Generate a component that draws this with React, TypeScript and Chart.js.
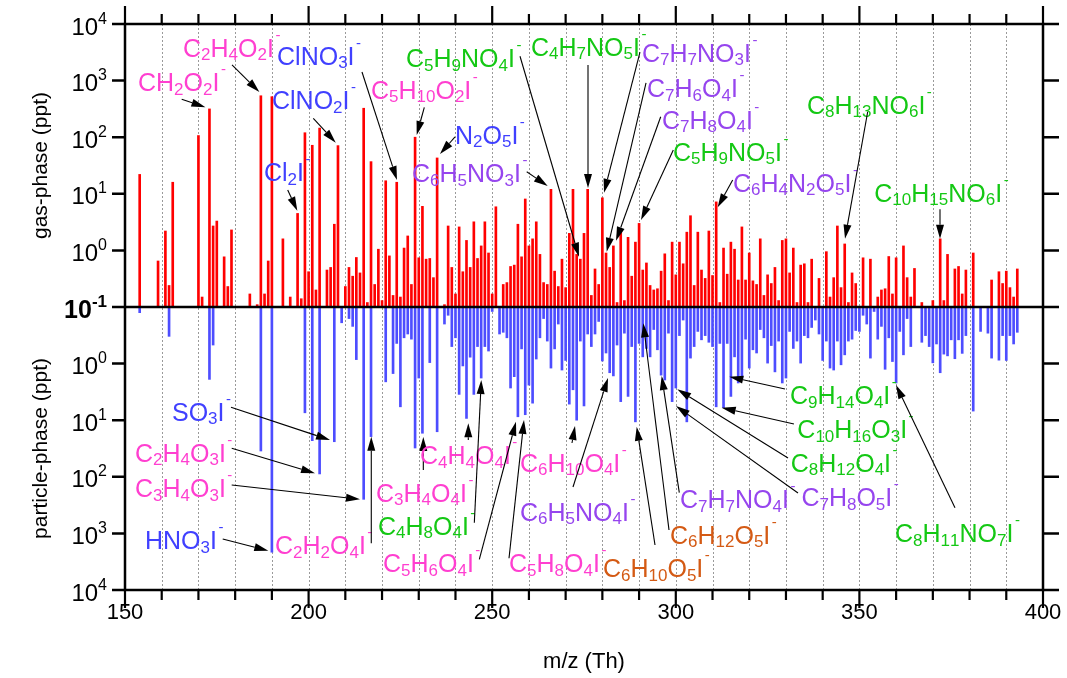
import React, { useEffect, useRef } from 'react';
import { Chart, registerables } from 'chart.js';

Chart.register(...registerables);

// ---------------- data ----------------
const gasMz = [
  154, 159, 161, 162, 163, 170, 171, 173, 174, 175,
  177, 178, 179, 184, 186, 187, 188, 189, 190, 193,
  195, 197, 198, 199, 200, 201, 202, 203, 205, 206,
  207, 208, 210, 211, 212, 213, 214, 215, 216, 217,
  218, 219, 220, 221, 222, 223, 224, 225, 226, 227,
  228, 229, 230, 231, 232, 233, 234, 235, 237, 238,
  239, 240, 241, 242, 243, 244, 245, 246, 247, 248,
  249, 250, 251, 253, 254, 255, 256, 257, 258, 259,
  260, 261, 262, 263, 264, 265, 266, 267, 268, 269,
  270, 271, 272, 273, 274, 275, 276, 277, 278, 279,
  280, 281, 282, 283, 284, 285, 286, 287, 288, 289,
  290, 291, 292, 293, 294, 295, 296, 297, 298, 299,
  300, 301, 302, 303, 304, 305, 306, 307, 308, 309,
  310, 311, 312, 313, 314, 315, 316, 317, 318, 319,
  320, 321, 322, 323, 324, 325, 326, 327, 328, 329,
  330, 331, 332, 333, 334, 335, 336, 337, 339, 341,
  342, 343, 344, 345, 346, 347, 348, 349, 351, 353,
  355, 356, 357, 358, 359, 360, 362, 363, 364, 365,
  367, 370, 372, 373, 374, 376, 377, 378, 379, 381,
  386, 388, 389, 390, 391, 392, 393,
];
const gasPpt = [
  22, 0.65, 2.2, 0.24, 16, 107, 0.15, 316, 2.7, 3.3,
  0.77, 0.23, 2.3, 0.17, 0.11, 540, 0.17, 0.65, 520, 1.6,
  0.15, 4.5, 0.14, 120, 0.42, 72, 0.2, 145, 0.45, 0.5,
  2.9, 71, 0.23, 0.5, 0.35, 0.75, 0.4, 325, 0.12, 37,
  0.25, 1.05, 0.13, 17, 0.8, 0.16, 16, 0.15, 1.1, 1.8,
  0.25, 100, 0.74, 6, 0.7, 0.72, 0.33, 43, 0.11, 2.7,
  0.5, 0.17, 2.6, 0.42, 1.5, 0.5, 3.2, 0.72, 1.2, 3.2,
  0.9, 0.17, 5.9, 0.25, 0.27, 0.52, 0.55, 2.9, 0.77, 8.1,
  1.2, 1.6, 3.2, 0.85, 0.27, 0.25, 12, 0.43, 0.23, 0.7,
  0.22, 2.0, 12, 0.85, 0.7, 2.0, 12, 0.16, 0.47, 0.25,
  8.5, 0.9, 0.5, 1.2, 0.12, 2.3, 0.13, 1.7, 0.35, 1.4,
  3.0, 0.45, 0.6, 0.24, 0.2, 0.21, 0.43, 0.87, 0.13, 1.4,
  0.37, 1.4, 0.58, 2.1, 4.1, 0.24, 2.1, 0.45, 0.32, 2.2,
  0.36, 7.2, 0.12, 1.1, 0.38, 1.4, 1.05, 0.3, 2.6, 0.3,
  0.9, 0.29, 0.25, 1.6, 0.16, 0.37, 0.26, 0.5, 0.13, 1.5,
  1.6, 0.4, 1.1, 0.12, 0.55, 0.58, 0.12, 0.7, 0.32, 0.95,
  0.15, 0.33, 2.7, 0.22, 1.3, 0.12, 0.4, 0.26, 0.74, 0.7,
  0.15, 0.2, 0.21, 0.78, 0.17, 0.74, 1.2, 0.33, 0.15, 0.48,
  0.12, 0.13, 1.6, 0.13, 0.85, 0.47, 0.52, 0.17, 0.45, 0.9,
  0.3, 0.42, 0.26, 0.43, 0.22, 0.15, 0.47,
];

const partMz = [
  154, 162, 173, 174, 187, 190, 199, 201, 203, 207,
  209, 211, 212, 213, 215, 217, 221, 223, 224, 225,
  226, 227, 228, 229, 230, 231, 233, 235, 237, 238,
  239, 240, 241, 242, 243, 244, 245, 246, 247, 248,
  249, 250, 252, 253, 254, 255, 256, 257, 258, 259,
  260, 261, 262, 263, 264, 265, 266, 267, 268, 269,
  270, 271, 272, 273, 274, 275, 276, 277, 278, 279,
  280, 281, 282, 283, 284, 285, 286, 287, 288, 289,
  290, 291, 292, 293, 294, 295, 296, 297, 298, 299,
  300, 301, 302, 303, 304, 305, 306, 307, 308, 309,
  310, 311, 312, 313, 314, 315, 316, 317, 318, 319,
  320, 321, 322, 323, 324, 325, 326, 327, 328, 329,
  330, 331, 332, 333, 334, 335, 336, 337, 338, 339,
  340, 341, 342, 343, 344, 345, 346, 347, 348, 349,
  350, 351, 352, 353, 354, 355, 356, 357, 358, 359,
  360, 361, 362, 363, 364, 367, 368, 369, 370, 371,
  372, 373, 374, 375, 376, 377, 378, 379, 381, 383,
  385, 386, 388, 389, 390, 391, 392, 393,
];
const partPpt = [
  0.126, 0.33, 1.9, 0.47, 35, 2150, 7.4, 23, 89, 24,
  0.19, 0.16, 0.22, 0.85, 250, 19.5, 2.1, 1.5, 0.44, 5.8,
  0.35, 0.3, 0.37, 31, 1.8, 17, 0.96, 16, 0.2, 0.14,
  0.5, 0.35, 3.5, 1.1, 9.3, 0.77, 3.5, 0.5, 1.8, 0.5,
  0.6, 0.12, 0.3, 0.28, 0.35, 2.7, 1.7, 8.7, 0.55, 8,
  2.4, 5, 0.83, 0.35, 0.16, 0.4, 1.2, 0.55, 0.2, 1.3,
  0.88, 5.2, 2.9, 10, 0.4, 5.6, 0.3, 0.5, 0.3, 0.18,
  0.9, 0.65, 1.45, 1.65, 0.47, 4.7, 0.29, 3.8, 0.5, 10.7,
  0.44, 0.76, 0.54, 0.76, 0.25, 0.57, 1.6, 1.95, 0.29, 4.7,
  2.7, 0.32, 0.17, 10.7, 0.8, 0.5, 0.27, 0.38, 0.32, 0.42,
  0.5, 5.8, 0.44, 6, 0.44, 3.8, 0.76, 2.2, 1.8, 0.37,
  1.2, 0.57, 0.65, 0.25, 0.35, 0.98, 0.48, 1.4, 0.4, 2.2,
  1.8, 0.27, 0.54, 0.4, 0.98, 0.32, 0.35, 0.23, 0.17, 0.3,
  0.88, 0.4, 1.2, 1.3, 0.4, 1.05, 0.7, 0.4, 0.37, 0.26,
  0.27, 0.14, 0.2, 0.8, 0.12, 0.37, 0.22, 1.26, 0.35, 0.92,
  2.2, 0.27, 0.7, 0.16, 0.5, 0.42, 0.32, 0.5, 0.97, 0.45,
  1.45, 0.68, 0.73, 0.38, 0.82, 0.38, 0.66, 0.32, 6.9, 0.27,
  0.29, 0.8, 0.87, 0.32, 0.88, 0.32, 0.45, 0.28,
];

const xTickValues = [150, 160, 170, 180, 190, 200, 210, 220, 230, 240, 250, 260, 270, 280, 290, 300, 310, 320, 330, 340, 350, 360, 370, 380, 390, 400];
const xLabelValues = [150, 200, 250, 300, 350, 400];
const gasDecades = [4, 3, 2, 1, 0, -1];
const partDecades = [0, 1, 2, 3, 4];
const BASE = 0.1;

const PINK = '#ff3fd0';
const BLUE = '#4040ff';
const GREEN = '#14c814';
const PURPLE = '#9645ee';
const ORANGE = '#d45a14';

// annotation: text, colour, panel, label (m/z, log10 ppt), arrow start & tip (m/z, log10 ppt)
type Ann = { t: string; c: string; p: 'g' | 'p'; x: number; y: number; a: number[] };
const annotations: Ann[] = [
  { t: 'C2H4O2I-', c: PINK, p: 'g', x: 165.8, y: 3.576, a: [179.14, 3.276, 186.6, 2.80] },
  { t: 'CH2O2I-', c: PINK, p: 'g', x: 153.54, y: 2.975, a: [165.44, 2.670, 171.9, 2.528] },
  { t: 'ClNO3I-', c: BLUE, p: 'g', x: 191.4, y: 3.435, a: [214.54, 3.152, 224.07, 1.244] },
  { t: 'ClNO2I-', c: BLUE, p: 'g', x: 190.03, y: 2.657, a: [201.28, 2.334, 207.4, 1.903] },
  { t: 'Cl2I-', c: BLUE, p: 'g', x: 187.85, y: 1.385, a: [194.31, 1.067, 196.92, 0.701] },
  { t: 'C5H10O2I-', c: PINK, p: 'g', x: 216.99, y: 2.834, a: [231.51, 2.528, 229.44, 2.039] },
  { t: 'N2O5I-', c: BLUE, p: 'g', x: 239.87, y: 2.039, a: [239.87, 2.004, 235.78, 1.703] },
  { t: 'C6H5NO3I-', c: PURPLE, p: 'g', x: 228.16, y: 1.367, a: [259.4, 1.39, 265.11, 1.138] },
  { t: 'C5H9NO4I-', c: GREEN, p: 'g', x: 226.53, y: 3.399, a: [257.57, 3.43, 273.64, -0.111] },
  { t: 'C4H7NO5I-', c: GREEN, p: 'g', x: 260.57, y: 3.594, a: [276.09, 3.276, 276.09, 1.102] },
  { t: 'C7H7NO3I-', c: PURPLE, p: 'g', x: 290.8, y: 3.488, a: [290.25, 3.505, 280.45, 1.019] },
  { t: 'C7H6O4I-', c: PURPLE, p: 'g', x: 292.16, y: 2.869, a: [291.89, 2.958, 281.18, -0.023] },
  { t: 'C7H8O4I-', c: PURPLE, p: 'g', x: 296.24, y: 2.304, a: [295.89, 2.362, 283.72, 0.171] },
  { t: 'C5H9NO5I-', c: GREEN, p: 'g', x: 299.24, y: 1.739, a: [299.32, 1.774, 290.52, 0.537] },
  { t: 'C6H4N2O5I-', c: PURPLE, p: 'g', x: 315.58, y: 1.191, a: [315.49, 1.244, 311.41, 0.761] },
  { t: 'C8H13NO6I-', c: GREEN, p: 'g', x: 335.73, y: 2.57, a: [352.26, 2.45, 346.08, 0.207] },
  { t: 'C10H15NO6I-', c: GREEN, p: 'g', x: 354.06, y: 1.02, a: [371.95, 0.726, 371.95, 0.207] },
  { t: 'SO3I-', c: BLUE, p: 'p', x: 162.8, y: 0.85, a: [178.87, 0.772, 205.83, 1.35] },
  { t: 'C2H4O3I-', c: PINK, p: 'p', x: 152.72, y: 1.574, a: [179.06, 1.496, 201.74, 1.938] },
  { t: 'C3H4O3I-', c: PINK, p: 'p', x: 152.72, y: 2.198, a: [179.06, 2.145, 214.0, 2.398] },
  { t: 'HNO3I-', c: BLUE, p: 'p', x: 155.45, y: 3.117, a: [176.61, 3.099, 189.03, 3.306] },
  { t: 'C2H2O4I-', c: PINK, p: 'p', x: 190.85, y: 3.205, a: [217.07, 3.175, 217.07, 1.292] },
  { t: 'C3H4O4I-', c: PINK, p: 'p', x: 218.36, y: 2.28, a: [231.24, 1.88, 231.24, 1.297] },
  { t: 'C4H4O4I-', c: PINK, p: 'p', x: 230.34, y: 1.615, a: [243.49, 1.35, 243.49, 1.056] },
  { t: 'C4H8O4I-', c: GREEN, p: 'p', x: 218.9, y: 2.869, a: [245.13, 2.811, 247.03, 0.29] },
  { t: 'C5H6O4I-', c: PINK, p: 'p', x: 220.26, y: 3.528, a: [246.49, 3.458, 256.48, 1.027] },
  { t: 'C5H8O4I-', c: PINK, p: 'p', x: 254.58, y: 3.528, a: [254.58, 3.44, 258.66, 0.996] },
  { t: 'C6H10O4I-', c: PINK, p: 'p', x: 257.57, y: 1.756, a: [271.73, 1.403, 272.55, 1.102] },
  { t: 'C6H5NO4I-', c: PURPLE, p: 'p', x: 257.57, y: 2.617, a: [272.0, 2.18, 281.54, 0.254] },
  { t: 'C6H10O5I-', c: ORANGE, p: 'p', x: 280.17, y: 3.617, a: [294.34, 3.205, 289.35, 1.115] },
  { t: 'C6H12O5I-', c: ORANGE, p: 'p', x: 298.42, y: 3.028, a: [298.15, 2.94, 291.15, -0.712] },
  { t: 'C7H7NO4I-', c: PURPLE, p: 'p', x: 301.14, y: 2.398, a: [300.95, 2.281, 296.16, 0.219] },
  { t: 'C7H8O5I-', c: PURPLE, p: 'p', x: 334.2, y: 2.357, a: [333.28, 2.286, 300.05, 0.749] },
  { t: 'C8H12O4I-', c: GREEN, p: 'p', x: 331.3, y: 1.756, a: [330.56, 1.668, 300.41, 0.454] },
  { t: 'C10H16O3I-', c: GREEN, p: 'p', x: 333.1, y: 1.16, a: [332.18, 1.067, 312.5, 0.779] },
  { t: 'C9H14O4I-', c: GREEN, p: 'p', x: 331.1, y: 0.555, a: [329.74, 0.449, 314.57, 0.231] },
  { t: 'C8H11NO7I-', c: GREEN, p: 'p', x: 359.7, y: 2.998, a: [376.03, 2.546, 359.97, 0.378] },
];

// ---------------- drawing helpers ----------------
const FONT = '"Liberation Sans", Arial, Helvetica, sans-serif';

function drawFormula(ctx: CanvasRenderingContext2D, text: string, x: number, cy: number, color: string) {
  const S = 25, SUB = 17, SUP = 15;
  const base = cy + S * 0.36;
  let cx = x;
  ctx.fillStyle = color;
  ctx.textAlign = 'left';
  ctx.textBaseline = 'alphabetic';
  for (let i = 0; i < text.length; i++) {
    const ch = text[i];
    if (ch >= '0' && ch <= '9') {
      ctx.font = `${SUB}px ${FONT}`;
      ctx.fillText(ch, cx, base + 3.5);
      cx += ctx.measureText(ch).width;
    } else if (ch === '-') {
      ctx.font = `${SUP}px ${FONT}`;
      ctx.fillText('-', cx + 1.5, base - 17);
      cx += ctx.measureText('-').width + 1.5;
    } else {
      ctx.font = `${S}px ${FONT}`;
      ctx.fillText(ch, cx, base);
      cx += ctx.measureText(ch).width;
    }
  }
}

function drawArrow(ctx: CanvasRenderingContext2D, x1: number, y1: number, x2: number, y2: number) {
  const ang = Math.atan2(y2 - y1, x2 - x1);
  const L = 14, Wd = 4;
  const c = Math.cos(ang), s = Math.sin(ang);
  const bx = x2 - L * c, by = y2 - L * s;
  ctx.strokeStyle = '#000';
  ctx.fillStyle = '#000';
  ctx.lineWidth = 1.1;
  ctx.setLineDash([]);
  ctx.beginPath();
  ctx.moveTo(x1, y1);
  ctx.lineTo(bx, by);
  ctx.stroke();
  ctx.beginPath();
  ctx.moveTo(x2, y2);
  ctx.lineTo(bx + Wd * s, by - Wd * c);
  ctx.lineTo(bx - Wd * s, by + Wd * c);
  ctx.closePath();
  ctx.fill();
}

function drawPow(ctx: CanvasRenderingContext2D, exp: string, xr: number, cy: number, bold: boolean) {
  const S = bold ? 25 : 24, E = bold ? 17 : 16;
  const w = bold ? 'bold ' : '';
  ctx.fillStyle = '#000';
  ctx.textAlign = 'left';
  ctx.textBaseline = 'alphabetic';
  ctx.font = `${w}${E}px ${FONT}`;
  const ew = ctx.measureText(exp).width;
  ctx.font = `${w}${S}px ${FONT}`;
  const bw = ctx.measureText('10').width;
  const x0 = xr - ew - bw;
  const base = cy + S * 0.36;
  ctx.fillText('10', x0, base);
  ctx.font = `${w}${E}px ${FONT}`;
  ctx.fillText(exp, x0 + bw, base - 11);
}

const decor = {
  id: 'decor',
  beforeDatasetsDraw(chart: any) {
    const { ctx, chartArea: a, scales } = chart;
    const xs = scales.x;
    ctx.save();
    ctx.strokeStyle = '#9a9a9a';
    ctx.lineWidth = 1;
    ctx.setLineDash([2, 2]);
    for (const v of xTickValues) {
      if (v === 150 || v === 400) continue;
      const x = Math.round(xs.getPixelForValue(v)) + 0.5;
      ctx.beginPath();
      ctx.moveTo(x, a.top);
      ctx.lineTo(x, a.bottom);
      ctx.stroke();
    }
    ctx.restore();
  },
  afterDatasetsDraw(chart: any) {
    const { ctx, chartArea: a, scales } = chart;
    const xs = scales.x, yG = scales.yG, yP = scales.yP;
    ctx.save();
    ctx.setLineDash([]);
    ctx.strokeStyle = '#000';

    // middle baseline
    const y0 = yG.getPixelForValue(BASE);
    ctx.lineWidth = 2.5;
    ctx.beginPath();
    ctx.moveTo(a.left, y0);
    ctx.lineTo(a.right, y0);
    ctx.stroke();

    // frame
    ctx.lineWidth = 2.5;
    ctx.strokeRect(a.left, a.top, a.right - a.left, a.bottom - a.top);

    // x ticks (top & bottom, outward)
    ctx.lineWidth = 2.2;
    for (const v of xTickValues) {
      const x = xs.getPixelForValue(v);
      const major = v % 50 === 0;
      const len = major ? 18 : 10;
      ctx.beginPath();
      ctx.moveTo(x, a.bottom);
      ctx.lineTo(x, a.bottom + len);
      ctx.moveTo(x, a.top);
      ctx.lineTo(x, a.top - len);
      ctx.stroke();
    }
    // y ticks (left & right, outward)
    const yTicks: number[] = [];
    gasDecades.forEach((d) => yTicks.push(yG.getPixelForValue(Math.pow(10, d))));
    partDecades.forEach((d) => yTicks.push(yP.getPixelForValue(Math.pow(10, d))));
    ctx.lineWidth = 2.5;
    for (const y of yTicks) {
      ctx.beginPath();
      ctx.moveTo(a.left - 13, y);
      ctx.lineTo(a.left, y);
      ctx.moveTo(a.right, y);
      ctx.lineTo(a.right + 16, y);
      ctx.stroke();
    }

    // y tick labels
    gasDecades.forEach((d) => {
      const y = yG.getPixelForValue(Math.pow(10, d));
      drawPow(ctx, String(d), a.left - 18, y + 2, d === -1);
    });
    partDecades.forEach((d) => {
      const y = yP.getPixelForValue(Math.pow(10, d));
      drawPow(ctx, String(d), a.left - 18, y + 2, false);
    });

    // x tick labels
    ctx.fillStyle = '#000';
    ctx.font = `22px ${FONT}`;
    ctx.textAlign = 'center';
    ctx.textBaseline = 'middle';
    for (const v of xLabelValues) {
      ctx.fillText(String(v), xs.getPixelForValue(v), a.bottom + 23);
    }

    // axis titles
    ctx.font = `22px ${FONT}`;
    ctx.fillText('m/z (Th)', (a.left + a.right) / 2, a.bottom + 72);
    ctx.font = `21px ${FONT}`;
    const gy = (a.top + y0) / 2, py = (y0 + a.bottom) / 2;
    ctx.save();
    ctx.translate(41, gy);
    ctx.rotate(-Math.PI / 2);
    ctx.fillText('gas-phase (ppt)', 0, 0);
    ctx.restore();
    ctx.save();
    ctx.translate(41, py);
    ctx.rotate(-Math.PI / 2);
    ctx.fillText('particle-phase (ppt)', 0, 0);
    ctx.restore();

    // annotations
    for (const an of annotations) {
      const ys = an.p === 'g' ? yG : yP;
      const px = (m: number) => xs.getPixelForValue(m);
      const pyv = (l: number) => ys.getPixelForValue(Math.pow(10, l));
      drawFormula(ctx, an.t, px(an.x), pyv(an.y), an.c);
      drawArrow(ctx, px(an.a[0]), pyv(an.a[1]), px(an.a[2]), pyv(an.a[3]));
    }
    ctx.restore();
  },
};

export default function App() {
  const ref = useRef<HTMLCanvasElement | null>(null);
  useEffect(() => {
    if (!ref.current) return;
    const chart = new Chart(ref.current, {
      type: 'bar',
      data: {
        datasets: [
          {
            label: 'gas-phase',
            data: gasMz.map((m, i) => ({ x: m, y: [BASE, gasPpt[i]] })) as any,
            backgroundColor: '#ff0000',
            borderWidth: 0,
            barThickness: 2,
            grouped: false,
            yAxisID: 'yG',
          } as any,
          {
            label: 'particle-phase',
            data: partMz.map((m, i) => ({ x: m, y: [BASE, partPpt[i]] })) as any,
            backgroundColor: '#4d4dff',
            borderWidth: 0,
            barThickness: 2,
            grouped: false,
            yAxisID: 'yP',
          } as any,
        ],
      },
      options: {
        animation: false,
        responsive: false,
        maintainAspectRatio: false,
        layout: { padding: { left: 125, right: 24, top: 24, bottom: 88 } },
        plugins: { legend: { display: false }, tooltip: { enabled: false }, title: { display: false } },
        scales: {
          x: { type: 'linear', min: 150, max: 400, offset: false, display: false },
          yG: { type: 'logarithmic', min: 1e-6, max: 1e4, display: false, position: 'left' },
          yP: { type: 'logarithmic', min: 1e-6, max: 1e4, reverse: true, display: false, position: 'left' },
        },
      } as any,
      plugins: [decor],
    });
    return () => chart.destroy();
  }, []);
  return (
    <div style={{ position: 'absolute', left: 0, top: 0, width: 1067, height: 678, background: '#fff' }}>
      <canvas ref={ref} width={1067} height={678} style={{ display: 'block' }} />
    </div>
  );
}
